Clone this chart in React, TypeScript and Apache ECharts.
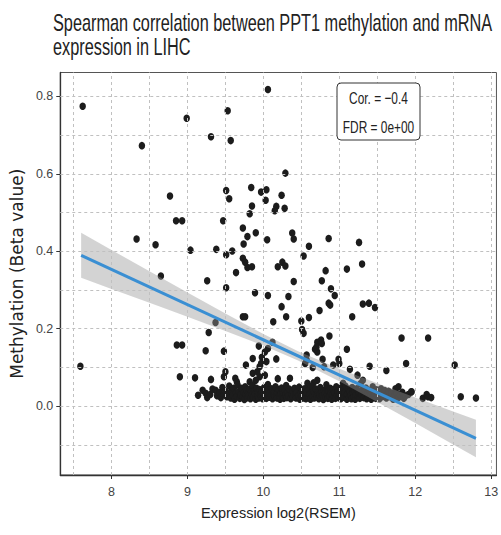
import React, { useEffect, useRef } from "react";
import * as echarts from "echarts";

const titleLines = [
  "Spearman correlation between PPT1 methylation and mRNA",
  "expression in LIHC",
];
const xName = "Expression log2(RSEM)";
const yName = "Methylation (Beta value)";
const statLines = ["Cor. = \u22120.4", "FDR = 0e+00"];

const xTicks = [8, 9, 10, 11, 12, 13];
const yTicks = [0, 0.2, 0.4, 0.6, 0.8];
const xGrid = [7.5, 8, 8.5, 9, 9.5, 10, 10.5, 11, 11.5, 12, 12.5, 13];
const yGrid = [-0.1, 0, 0.1, 0.2, 0.3, 0.4, 0.5, 0.6, 0.7, 0.8];

// scattered samples (expression, methylation)
const scatteredSamples = [
  [7.62, 0.775], [7.59, 0.103], [8.4, 0.673], [8.99, 0.744], [9.31, 0.696], [9.53, 0.763],
  [9.57, 0.686], [10.06, 0.818], [8.77, 0.543], [8.85, 0.479], [8.93, 0.479], [8.33, 0.432],
  [8.58, 0.417], [9.04, 0.403], [8.65, 0.336], [9.26, 0.324], [9.38, 0.405], [9.47, 0.479],
  [9.51, 0.557], [9.55, 0.536], [9.51, 0.391], [9.59, 0.401], [9.64, 0.345], [9.51, 0.306],
  [9.73, 0.46], [9.79, 0.438], [9.74, 0.419], [9.82, 0.497], [9.85, 0.517], [9.84, 0.565],
  [9.9, 0.448], [9.73, 0.382], [9.76, 0.372], [9.79, 0.358], [9.85, 0.36], [9.89, 0.293],
  [9.97, 0.553], [10.04, 0.559], [10.03, 0.532], [10.24, 0.545], [10.29, 0.602], [10.17, 0.516],
  [10.15, 0.505], [10.28, 0.511], [10.05, 0.43], [10.38, 0.447], [10.4, 0.432], [10.6, 0.413],
  [10.86, 0.433], [11.26, 0.423], [10.53, 0.388], [10.19, 0.36], [10.25, 0.372], [10.29, 0.362],
  [10.82, 0.35], [11.1, 0.354], [11.3, 0.367], [10.4, 0.322], [10.77, 0.324], [10.89, 0.303],
  [10.94, 0.286], [10.06, 0.286], [10.33, 0.283], [10.24, 0.257], [10.86, 0.266], [10.88, 0.261],
  [10.74, 0.247], [11.31, 0.264], [11.39, 0.266], [11.47, 0.255], [10.3, 0.231], [10.6, 0.229],
  [10.5, 0.22], [11.17, 0.231], [10.13, 0.218], [9.73, 0.231], [9.76, 0.231], [9.37, 0.216],
  [9.28, 0.19], [8.86, 0.158], [8.93, 0.158], [9.24, 0.143], [9.48, 0.142], [9.94, 0.155],
  [10.51, 0.198], [10.53, 0.188], [10.87, 0.181], [10.76, 0.171], [10.71, 0.165], [10.77, 0.162],
  [11.82, 0.176], [12.17, 0.176], [10.06, 0.149], [10.02, 0.14], [10.12, 0.165], [10.68, 0.147],
  [10.71, 0.14], [10.7, 0.153], [11.1, 0.147], [9.86, 0.123], [9.98, 0.126], [10.04, 0.115],
  [9.95, 0.102], [10.17, 0.122], [10.55, 0.11], [10.57, 0.119], [10.57, 0.132], [10.65, 0.1],
  [10.78, 0.121], [10.8, 0.102], [10.99, 0.121], [11.0, 0.11], [11.14, 0.095], [10.92, 0.106],
  [11.4, 0.103], [11.62, 0.092], [11.88, 0.11], [12.52, 0.106], [11.24, 0.08], [11.31, 0.067],
  [10.19, 0.071], [9.95, 0.076], [10.02, 0.08], [9.86, 0.085], [10.35, 0.072], [10.58, 0.059],
  [10.71, 0.067], [10.66, 0.06], [11.05, 0.059], [11.78, 0.05], [11.95, 0.037], [8.9, 0.076],
  [9.1, 0.073], [9.31, 0.069], [9.48, 0.076], [9.5, 0.089], [9.77, 0.106], [9.63, 0.072],
  [9.65, 0.063], [9.82, 0.063], [9.9, 0.067], [9.92, 0.089], [9.97, 0.11],
];

// dense low-methylation cluster
const clusterSamples = [
  [9.14, 0.028], [9.2, 0.041], [9.24, 0.033], [9.26, 0.022], [9.3, 0.03], [9.33, 0.044],
  [9.37, 0.041], [9.39, 0.027], [9.42, 0.035], [9.44, 0.022], [9.46, 0.048], [9.48, 0.03],
  [9.5, 0.038], [9.52, 0.024], [9.54, 0.032], [9.55, 0.052], [9.57, 0.021], [9.58, 0.04],
  [9.6, 0.028], [9.61, 0.046], [9.62, 0.018], [9.64, 0.034], [9.65, 0.025], [9.66, 0.055],
  [9.68, 0.038], [9.69, 0.02], [9.7, 0.029], [9.71, 0.046], [9.73, 0.024], [9.74, 0.035],
  [9.75, 0.017], [9.76, 0.05], [9.77, 0.03], [9.78, 0.041], [9.79, 0.022], [9.8, 0.033],
  [9.81, 0.026], [9.82, 0.044], [9.83, 0.019], [9.84, 0.037], [9.85, 0.028], [9.86, 0.053],
  [9.87, 0.023], [9.88, 0.04], [9.89, 0.031], [9.9, 0.018], [9.91, 0.046], [9.92, 0.027],
  [9.93, 0.036], [9.94, 0.021], [9.95, 0.043], [9.96, 0.03], [9.97, 0.024], [9.98, 0.038],
  [9.99, 0.019], [10.0, 0.033], [10.01, 0.048], [10.02, 0.025], [10.03, 0.037], [10.04, 0.02],
  [10.05, 0.03], [10.06, 0.056], [10.07, 0.041], [10.08, 0.023], [10.09, 0.034], [10.1, 0.027],
  [10.11, 0.045], [10.12, 0.019], [10.13, 0.031], [10.14, 0.038], [10.15, 0.024], [10.16, 0.05],
  [10.17, 0.029], [10.18, 0.021], [10.19, 0.036], [10.2, 0.043], [10.21, 0.026], [10.22, 0.018],
  [10.23, 0.032], [10.24, 0.047], [10.25, 0.024], [10.26, 0.035], [10.27, 0.02], [10.28, 0.041],
  [10.29, 0.029], [10.3, 0.053], [10.31, 0.022], [10.32, 0.034], [10.33, 0.027], [10.34, 0.044],
  [10.36, 0.019], [10.37, 0.031], [10.38, 0.039], [10.39, 0.024], [10.41, 0.046], [10.42, 0.03],
  [10.43, 0.021], [10.44, 0.036], [10.46, 0.027], [10.47, 0.049], [10.48, 0.018], [10.49, 0.033],
  [10.5, 0.025], [10.51, 0.04], [10.52, 0.021], [10.53, 0.031], [10.54, 0.045], [10.55, 0.027],
  [10.56, 0.019], [10.57, 0.036], [10.59, 0.024], [10.6, 0.042], [10.61, 0.03], [10.62, 0.018],
  [10.63, 0.034], [10.64, 0.051], [10.65, 0.026], [10.66, 0.038], [10.67, 0.021], [10.68, 0.031],
  [10.69, 0.044], [10.7, 0.024], [10.72, 0.035], [10.73, 0.019], [10.74, 0.029], [10.75, 0.048],
  [10.76, 0.023], [10.77, 0.037], [10.78, 0.028], [10.79, 0.017], [10.8, 0.041], [10.81, 0.032],
  [10.82, 0.022], [10.83, 0.055], [10.84, 0.03], [10.85, 0.02], [10.86, 0.039], [10.87, 0.026],
  [10.88, 0.046], [10.89, 0.033], [10.9, 0.018], [10.91, 0.028], [10.92, 0.043], [10.93, 0.024],
  [10.94, 0.035], [10.95, 0.02], [10.96, 0.05], [10.97, 0.029], [10.98, 0.038], [10.99, 0.022],
  [11.0, 0.032], [11.01, 0.046], [11.02, 0.019], [11.03, 0.027], [11.04, 0.04], [11.06, 0.023],
  [11.07, 0.035], [11.08, 0.052], [11.09, 0.026], [11.1, 0.018], [11.11, 0.031], [11.12, 0.044],
  [11.13, 0.022], [11.14, 0.037], [11.15, 0.028], [11.16, 0.019], [11.17, 0.048], [11.18, 0.033],
  [11.19, 0.024], [11.2, 0.039], [11.21, 0.018], [11.22, 0.029], [11.23, 0.045], [11.25, 0.025],
  [11.26, 0.034], [11.27, 0.02], [11.28, 0.058], [11.29, 0.03], [11.3, 0.041], [11.32, 0.022],
  [11.33, 0.036], [11.34, 0.027], [11.35, 0.047], [11.36, 0.019], [11.37, 0.032], [11.38, 0.024],
  [11.4, 0.04], [11.41, 0.028], [11.42, 0.018], [11.43, 0.035], [11.44, 0.05], [11.45, 0.023],
  [11.46, 0.031], [11.48, 0.02], [11.49, 0.042], [11.5, 0.028], [11.52, 0.036], [11.53, 0.019],
  [11.55, 0.045], [11.57, 0.025], [11.59, 0.033], [11.6, 0.04], [11.62, 0.021], [11.64, 0.03],
  [11.65, 0.038], [11.67, 0.024], [11.69, 0.034], [11.71, 0.018], [11.73, 0.027], [11.74, 0.045],
  [11.76, 0.032], [11.78, 0.022], [11.8, 0.029], [11.83, 0.036], [11.85, 0.02], [11.87, 0.026],
  [11.91, 0.03], [11.95, 0.037], [12.1, 0.02], [12.15, 0.03], [12.17, 0.024], [12.21, 0.022],
  [12.6, 0.024], [12.8, 0.021],
];

// linear fit and its confidence band
const fitX = [7.6, 12.8];
const fitY = [0.3896, -0.0836];
const bandX = [7.6, 8.0, 8.5, 9.0, 9.5, 10.0, 10.45, 11.0, 11.5, 12.0, 12.5, 12.8];
const bandLo = [0.3315, 0.3029, 0.267, 0.2309, 0.1943, 0.1563, 0.1183, 0.064, 0.0106, -0.0439, -0.0989, -0.132];
const bandHi = [0.4477, 0.4035, 0.3484, 0.2935, 0.2391, 0.1861, 0.1423, 0.0964, 0.0588, 0.0223, -0.0137, -0.0352];

const SANS = '"Liberation Sans", Arial, sans-serif';

export default function App() {
  const ref = useRef<HTMLDivElement>(null);
  useEffect(() => {
    if (!ref.current) return;
    const chart = echarts.init(ref.current, null, { renderer: "svg" });
    const option: any = {
      animation: false,
      backgroundColor: "#ffffff",
      grid: {
        left: 53,
        top: 72.5,
        right: 3,
        bottom: 60,
        show: true,
        borderColor: "#555",
        borderWidth: 1,
        backgroundColor: "#ffffff",
      },
      xAxis: {
        type: "value",
        min: 7.325,
        max: 13.07,
        name: xName,
        nameLocation: "middle",
        nameGap: 30,
        nameTextStyle: { fontFamily: SANS, fontSize: 14.5, color: "#222" },
        axisLine: { show: true, onZero: false, lineStyle: { color: "#333", width: 1.3 } },
        axisTick: { show: true, length: 4, lineStyle: { color: "#333" }, customValues: xTicks },
        axisLabel: {
          customValues: xTicks,
          margin: 10,
          fontFamily: SANS,
          fontSize: 12.5,
          color: "#444",
          formatter: (v: number) => String(Math.round(v)),
        },
        splitLine: { show: false },
      },
      yAxis: {
        type: "value",
        min: -0.178,
        max: 0.862,
        name: yName,
        nameLocation: "middle",
        nameGap: 17,
        nameTextStyle: { fontFamily: "DejaVu Sans", fontSize: 17, color: "#222" },
        axisLine: { show: true, onZero: false, lineStyle: { color: "#333", width: 1.3 } },
        axisTick: { show: true, length: 4, lineStyle: { color: "#333" }, customValues: yTicks },
        axisLabel: {
          customValues: yTicks,
          margin: 7,
          fontFamily: SANS,
          fontSize: 12.5,
          color: "#444",
          formatter: (v: number) => v.toFixed(1),
        },
        splitLine: { show: false },
      },
      series: [
        {
          type: "line",
          data: [],
          z: 1,
          silent: true,
          markLine: {
            silent: true,
            symbol: "none",
            animation: false,
            label: { show: false },
            lineStyle: { type: [3, 3], color: "#c0c0c0", width: 1 },
            emphasis: { disabled: true },
            data: [
              ...xGrid.map((v) => ({ xAxis: v })),
              ...yGrid.map((v) => ({ yAxis: v })),
            ],
          },
        },
        {
          type: "scatter",
          z: 3,
          symbol: "circle",
          symbolSize: [6.5, 7.5],
          itemStyle: { color: "#1c1c1c", opacity: 1 },
          data: [...scatteredSamples, ...clusterSamples],
        },
        {
          type: "custom",
          z: 4,
          silent: true,
          data: bandX.map((x, i) => [x, bandLo[i], bandHi[i]]),
          encode: { x: 0, y: [1, 2] },
          renderItem: (params: any, api: any) => {
            if (params.dataIndex !== 0) return null;
            const pts: number[][] = [];
            for (let i = 0; i < bandX.length; i++) pts.push(api.coord([bandX[i], bandHi[i]]));
            for (let i = bandX.length - 1; i >= 0; i--) pts.push(api.coord([bandX[i], bandLo[i]]));
            return {
              type: "polygon",
              shape: { points: pts },
              style: { fill: "rgba(150,150,150,0.42)", stroke: "none" },
            };
          },
        },
        {
          type: "line",
          z: 5,
          symbol: "none",
          silent: true,
          lineStyle: { color: "#3a8fd3", width: 3 },
          data: fitX.map((x, i) => [x, fitY[i]]),
        },
      ],
      graphic: [
        {
          type: "text",
          x: 53,
          y: 10,
          scaleX: 0.815,
          scaleY: 1.2,
          z: 10,
          style: {
            text: titleLines[0],
            fontFamily: SANS,
            fontSize: 20,
            fill: "#222",
            verticalAlign: "top",
          },
        },
        {
          type: "text",
          x: 53,
          y: 34,
          scaleX: 0.815,
          scaleY: 1.2,
          z: 10,
          style: {
            text: titleLines[1],
            fontFamily: SANS,
            fontSize: 20,
            fill: "#222",
            verticalAlign: "top",
          },
        },
        {
          type: "rect",
          z: 20,
          shape: { x: 337, y: 83, width: 83, height: 57, r: 4 },
          style: { fill: "#ffffff", stroke: "#333", lineWidth: 1 },
        },
        {
          type: "text",
          z: 21,
          x: 378.5,
          y: 98,
          scaleX: 0.82,
          scaleY: 1.2,
          style: {
            text: statLines[0],
            fontFamily: SANS,
            fontSize: 14.5,
            fill: "#222",
            align: "center",
            verticalAlign: "middle",
          },
        },
        {
          type: "text",
          z: 21,
          x: 378.5,
          y: 127,
          scaleX: 0.82,
          scaleY: 1.2,
          style: {
            text: statLines[1],
            fontFamily: SANS,
            fontSize: 14.5,
            fill: "#222",
            align: "center",
            verticalAlign: "middle",
          },
        },
      ],
    };
    chart.setOption(option);
    return () => chart.dispose();
  }, []);
  return (
    <div
      ref={ref}
      style={{ position: "fixed", left: 0, top: 0, width: 501, height: 535, background: "#fff" }}
    />
  );
}
